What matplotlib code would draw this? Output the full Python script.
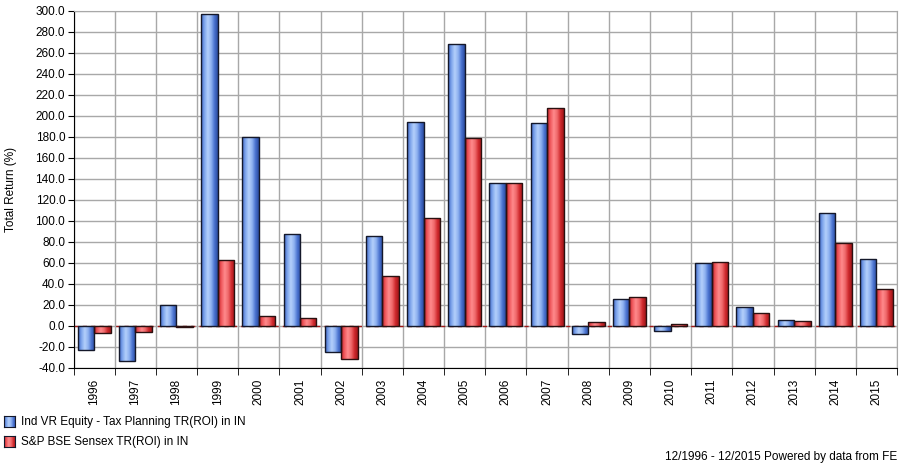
import numpy as np
import matplotlib
matplotlib.use('Agg')
import matplotlib.pyplot as plt
from matplotlib.colors import LinearSegmentedColormap

plt.rcParams['font.family'] = ['Liberation Sans', 'DejaVu Sans']

YEARS = [str(y) for y in range(1996, 2016)]
FUND = [-23.0, -33.5, 19.2, 296.5, 179.5, 87.0, -25.5, 85.0, 193.8, 267.8,
        135.4, 193.1, -8.4, 25.5, -5.2, 59.5, 17.6, 5.5, 106.8, 63.0]
SENSEX = [-7.5, -6.5, -1.8, 62.3, 9.0, 7.0, -32.0, 47.4, 102.4, 178.3,
          136.0, 206.8, 3.0, 27.1, 1.4, 60.5, 11.9, 4.0, 78.3, 34.8]
LABELS = ['Ind VR Equity - Tax Planning TR(ROI) in IN',
          'S&P BSE Sensex TR(ROI) in IN']

BLUE = LinearSegmentedColormap.from_list(
    'b', ['#3f66c4', '#7fa6ec', '#b4d0fb', '#8fb2f0', '#4a72d0', '#2a4b9e'])
RED = LinearSegmentedColormap.from_list(
    'r', ['#c21f24', '#f05a5e', '#ff8a8c', '#f06a6c', '#d02a2e', '#9e1518'])

fig = plt.figure(figsize=(9, 4.67), dpi=100)
ax = fig.add_axes([0.0817, 0.213, 0.915, 0.7645])

x = np.arange(len(YEARS))
w = 0.4
grad = np.linspace(0, 1, 64).reshape(1, -1)


def gradient_bars(bars, cmap):
    for b in bars:
        x0, y0 = b.get_x(), b.get_y()
        x1, y1 = x0 + b.get_width(), y0 + b.get_height()
        im = ax.imshow(grad, cmap=cmap, aspect='auto', extent=(x0, x1, min(y0, y1), max(y0, y1)),
                       zorder=3, interpolation='bilinear')
        im.set_clip_path(b)


b1 = ax.bar(x - w / 2, FUND, w, facecolor='none', edgecolor='#14182a', lw=1.0, zorder=4)
b2 = ax.bar(x + w / 2, SENSEX, w, facecolor='none', edgecolor='#2a1010', lw=1.0, zorder=4)
gradient_bars(b1, BLUE)
gradient_bars(b2, RED)

ax.axhline(0, color='#a01818', lw=1.0, ls=(0, (3, 3)), zorder=2)

ax.set_xlim(-0.5, len(YEARS) - 0.5)
ax.set_ylim(-40, 300)
ax.set_yticks(np.arange(-40, 301, 20))
ax.set_yticklabels([f'{v:.1f}' for v in np.arange(-40, 301, 20)], fontsize=8.5)
ax.set_xticks(x)
ax.set_xticklabels(YEARS, rotation=90, fontsize=8.5)
ax.set_xticks(np.arange(-0.5, len(YEARS)), minor=True)
ax.tick_params(axis='x', which='major', length=0, pad=8)
ax.tick_params(axis='x', which='minor', length=5, direction='out', color='black')
ax.tick_params(axis='y', length=4, direction='out', pad=2)
ax.grid(axis='y', which='major', color='#a8a8a8', lw=1.0, zorder=0)
ax.grid(axis='x', which='minor', color='#a8a8a8', lw=1.0, zorder=0)
ax.set_axisbelow(True)
for s in ['top', 'right']:
    ax.spines[s].set_color('#a8a8a8')
for s in ['left', 'bottom']:
    ax.spines[s].set_color('black')
ax.set_ylabel('Total Return (%)', fontsize=8.5, labelpad=13)

# legend
for i, (lab, cm) in enumerate(zip(LABELS, [BLUE, RED])):
    yy = 0.097 - i * 0.043
    lax = fig.add_axes([0.004, yy - 0.012, 0.0125, 0.024])
    lax.imshow(grad, cmap=cm, aspect='auto')
    lax.set_xticks([]); lax.set_yticks([])
    for sp in lax.spines.values():
        sp.set_color('#14182a')
    fig.text(0.023, yy, lab, fontsize=8.5, va='center', ha='left')

fig.text(0.997, 0.022, '12/1996 - 12/2015 Powered by data from FE', fontsize=8.5,
         ha='right', va='center')

fig.savefig('out.png', dpi=100)
